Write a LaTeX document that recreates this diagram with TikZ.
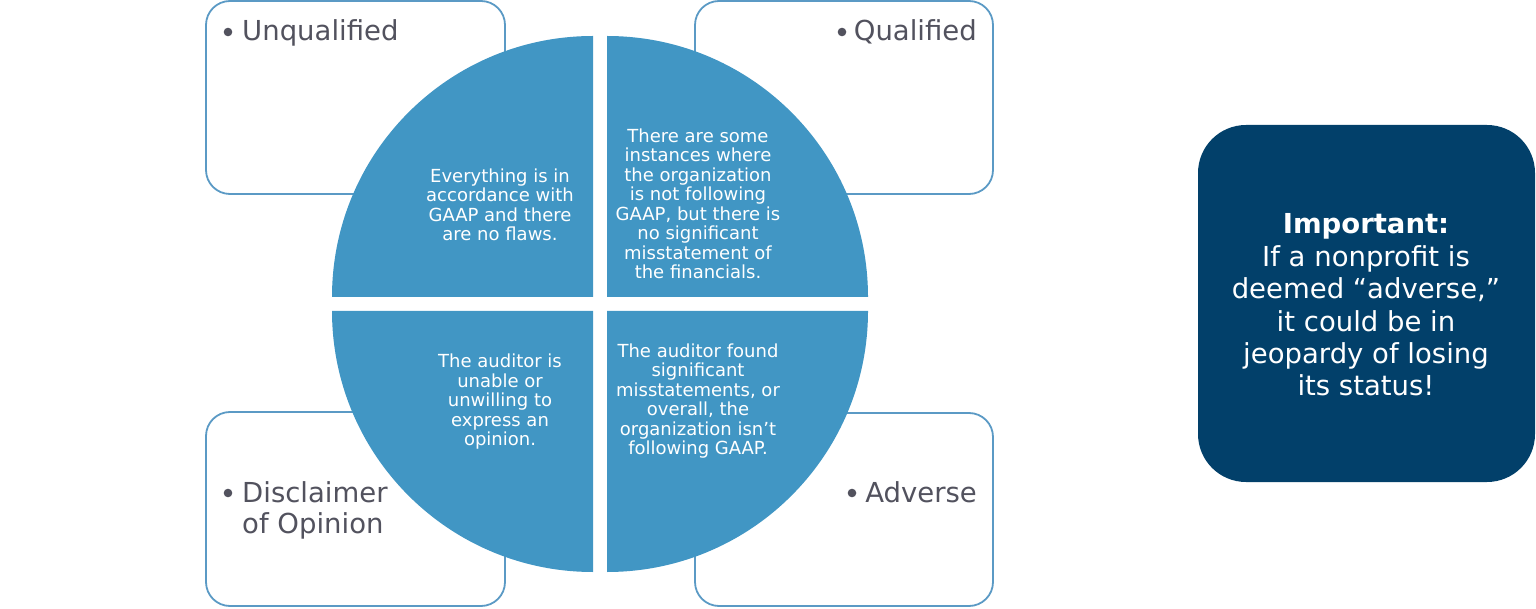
\documentclass[tikz,border=0pt]{standalone}
\usepackage{fontspec}
\setmainfont{DejaVu Sans}
\definecolor{quadblue}{HTML}{4196C4}
\definecolor{boxline}{HTML}{5B9AC5}
\definecolor{navy}{HTML}{02406A}
\definecolor{labelgray}{HTML}{52525E}
\begin{document}
\begin{tikzpicture}[x=1pt,y=1pt,
  optbox/.style={draw=boxline, line width=1.8pt, fill=white, rounded corners=24pt},
  quad/.style={fill=quadblue},
  quadtext/.style={text=white, align=center, font=\fontsize{18}{19.5}\selectfont, inner sep=0pt},
  lbl/.style={text=labelgray, font=\fontsize{27.5}{30}\selectfont, inner sep=0pt},
  dot/.style={fill=labelgray, draw=none}
]
\useasboundingbox (0,0) rectangle (1536,-609);
% option boxes
\draw[optbox] (206,-1) rectangle (505,-194);
\draw[optbox] (695,-1) rectangle (993,-194);
\draw[optbox] (206,-412) rectangle (505,-606);
\draw[optbox] (695,-413) rectangle (993,-606);
% quadrants
\fill[quad] (593,-297) -- (332,-297) arc[start angle=180, end angle=90, radius=261] -- cycle;
\fill[quad] (607,-297) -- (607,-36) arc[start angle=90, end angle=0, radius=261] -- cycle;
\fill[quad] (593,-311) -- (332,-311) arc[start angle=180, end angle=270, radius=261] -- cycle;
\fill[quad] (607,-311) -- (868,-311) arc[start angle=0, end angle=-90, radius=261] -- cycle;
% quadrant texts
\node[quadtext] (tl) at (500,-205) {Everything is in\\accordance with\\GAAP and there\\are no flaws.};
\node[quadtext] (tr) at (698,-204) {There are some\\instances where\\the organization\\is not following\\GAAP, but there is\\no significant\\misstatement of\\the financials.};
\node[quadtext] (bl) at (500,-402) {The auditor is\\unable or\\unwilling to\\express an\\opinion.};
\node[quadtext] (br) at (698,-401) {The auditor found\\significant\\misstatements, or\\overall, the\\organization isn’t\\following GAAP.};
% labels
\fill[dot] (228,-32) circle (4.3);
\node[lbl, anchor=base west] (unq) at (242,-41) {Unqualified};
\fill[dot] (842,-32) circle (4.3);
\node[lbl, anchor=base east] (qual) at (977,-41) {Qualified};
\fill[dot] (228,-493) circle (4.3);
\node[lbl, anchor=base west] (dis1) at (242,-502) {Disclaimer};
\node[lbl, anchor=base west] (dis2) at (242,-533) {of Opinion};
\fill[dot] (852,-493) circle (4.3);
\node[lbl, anchor=base east] (adv) at (977,-502) {Adverse};
% important box
\fill[navy, rounded corners=48pt] (1198,-125) rectangle (1535,-482);
\node[text=white, align=center, font=\fontsize{27.5}{32.4}\selectfont, inner sep=0pt] (imp) at (1366,-305)
  {\textbf{Important:}\\If a nonprofit is\\deemed “adverse,”\\it could be in\\jeopardy of losing\\its status!};
\end{tikzpicture}
\end{document}
